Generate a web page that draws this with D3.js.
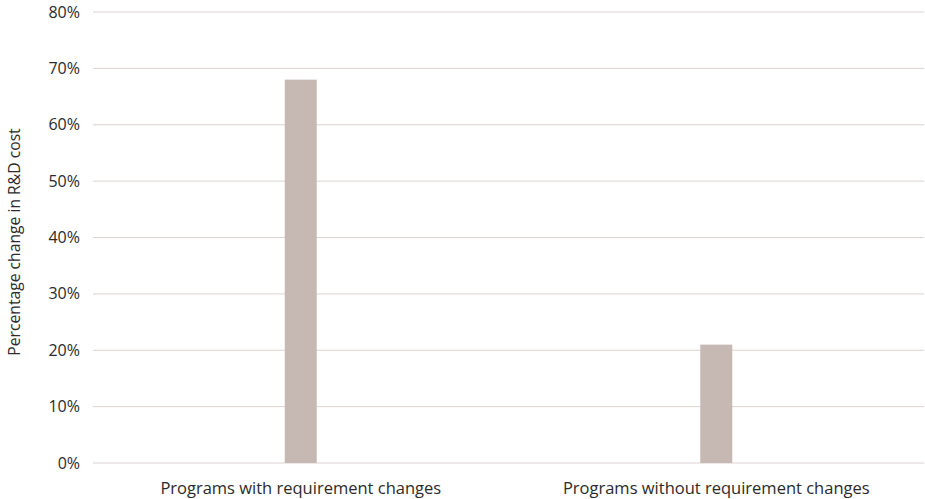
<!DOCTYPE html>
<html>
<head>
<meta charset="utf-8">
<script src="https://cdn.jsdelivr.net/npm/d3@7"></script>
<style>
  body { margin: 0; background: #fff; }
  text { font-family: "Open Sans", sans-serif; fill: #2b2b2b; }
</style>
</head>
<body>
<svg id="chart" width="925" height="499"></svg>
<script>
// chart data
var categories = ["Programs with requirement changes", "Programs without requirement changes"];
var values = [0.68, 0.21];
var yTicks = [0, 0.1, 0.2, 0.3, 0.4, 0.5, 0.6, 0.7, 0.8];
var yTitle = "Percentage change in R&D cost";

var svg = d3.select("#chart");
var plotLeft = 93, plotRight = 924, plotTop = 12, plotBottom = 463;

var x = d3.scaleBand()
    .domain(categories)
    .range([plotLeft, plotRight])
    .paddingInner(0.923)
    .paddingOuter(0.4615);

var y = d3.scaleLinear().domain([0, 0.8]).range([plotBottom, plotTop]);

// gridlines
svg.append("g").selectAll("line")
    .data(yTicks)
    .enter()
    .append("line")
    .attr("x1", plotLeft)
    .attr("x2", plotRight)
    .attr("y1", d => y(d))
    .attr("y2", d => y(d))
    .style("stroke", "#dcd2d0")
    .style("stroke-width", 1);

// y tick labels
svg.append("g").selectAll("text")
    .data(yTicks)
    .enter()
    .append("text")
    .attr("x", 80)
    .attr("y", d => y(d))
    .attr("dy", "0.35em")
    .attr("text-anchor", "end")
    .style("font-size", "16px")
    .text(d => d3.format(".0%")(d));

// bars
svg.append("g").selectAll("rect")
    .data(values)
    .enter()
    .append("rect")
    .attr("x", (d, i) => x(categories[i]))
    .attr("width", x.bandwidth())
    .attr("y", d => y(d))
    .attr("height", d => plotBottom - y(d))
    .style("fill", "#c6b8b3");

// category labels
svg.append("g").selectAll("text")
    .data(categories)
    .enter()
    .append("text")
    .attr("x", d => x(d) + x.bandwidth() / 2)
    .attr("y", 494)
    .attr("text-anchor", "middle")
    .style("font-size", "16.5px")
    .text(d => d);

// y axis title
svg.append("text")
    .attr("transform", "translate(20,242) rotate(-90)")
    .attr("text-anchor", "middle")
    .style("font-size", "15.7px")
    .text(yTitle);
</script>
</body>
</html>
